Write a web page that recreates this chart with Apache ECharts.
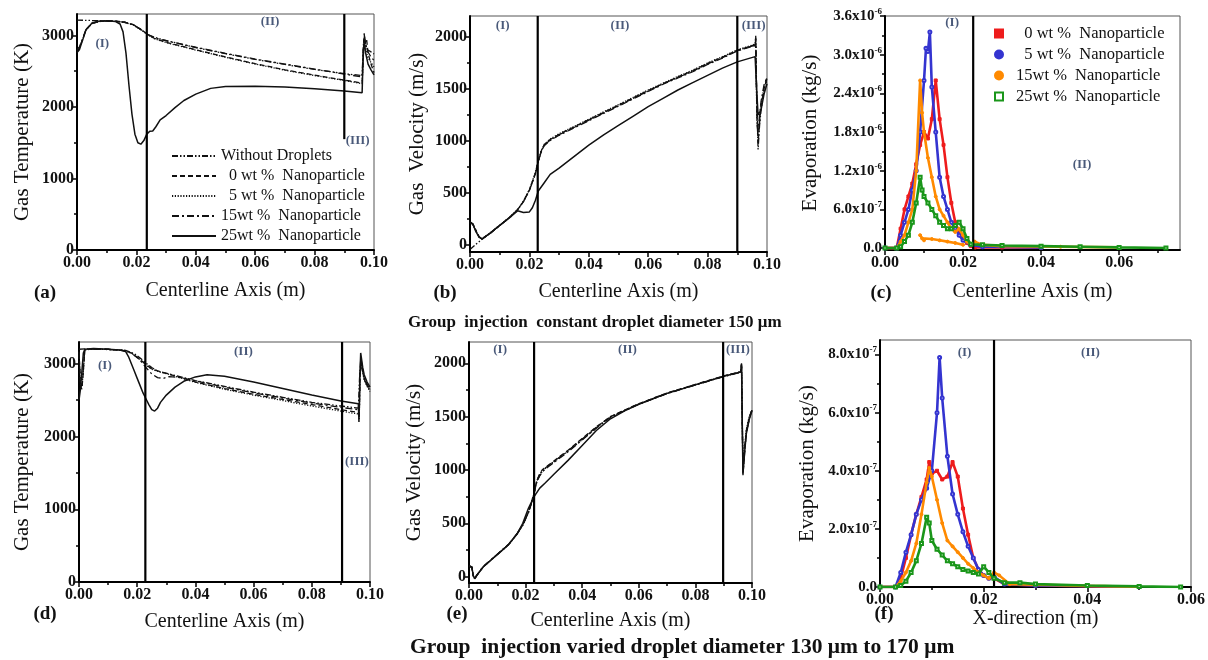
<!DOCTYPE html>
<html>
<head>
<meta charset="utf-8">
<script src="https://cdn.jsdelivr.net/npm/echarts@6/dist/echarts.min.js"></script>
<style>
  html, body { margin: 0; padding: 0; background: #fff; }
  #chart { width: 1208px; height: 660px; }
</style>
</head>
<body>
<div id="chart"></div>
<script>
// ---------- tick labels ----------
const ticksX10 = [0, 0.02, 0.04, 0.06, 0.08, 0.1];
const minorX10 = [0.01, 0.03, 0.05, 0.07, 0.09];
const ticksXc = [0, 0.02, 0.04, 0.06];
const minorXc = [0.01, 0.03, 0.05, 0.07];
const ticksXf = [0, 0.02, 0.04, 0.06];
const minorXf = [0.01, 0.03, 0.05];
const ticksTemp = [0, 1000, 2000, 3000];
const minorTemp = [500, 1500, 2500];
const ticksVel = [0, 500, 1000, 1500, 2000];
const minorVel = [250, 750, 1250, 1750];
const ticksEvapC = [0, 0.6e-6, 1.2e-6, 1.8e-6, 2.4e-6, 3.0e-6, 3.6e-6];
const minorEvapC = [0.3e-6, 0.9e-6, 1.5e-6, 2.1e-6, 2.7e-6, 3.3e-6];
const ticksEvapF = [0, 2e-7, 4e-7, 6e-7, 8e-7];
const minorEvapF = [1e-7, 3e-7, 5e-7, 7e-7];

// ---------- (a) gas temperature, constant droplet diameter ----------
const tempA_noDroplets = [[0,3215],[0.004,3210],[0.008,3205],[0.013,3200],[0.016,3185],[0.019,3150],[0.022,3070],[0.024,3010],[0.026,2975],[0.03,2930],[0.04,2830],[0.05,2745],[0.06,2665],[0.07,2595],[0.08,2525],[0.09,2465],[0.096,2440],[0.0964,2860],[0.0968,2990],[0.0972,2870],[0.0978,2800],[0.099,2770],[0.1,2740]];
const tempA_0wt = [[0,2780],[0.0008,2820],[0.002,2960],[0.003,3080],[0.005,3170],[0.008,3200],[0.013,3200],[0.016,3185],[0.019,3150],[0.022,3070],[0.024,3010],[0.026,2960],[0.03,2905],[0.04,2800],[0.05,2700],[0.06,2605],[0.07,2520],[0.08,2445],[0.09,2375],[0.096,2335],[0.0964,2750],[0.0967,3030],[0.097,2900],[0.0975,2950],[0.098,2750],[0.099,2600],[0.1,2480]];
const tempA_5wt = [[0,2790],[0.0008,2830],[0.002,2950],[0.003,3070],[0.005,3165],[0.008,3198],[0.013,3198],[0.016,3182],[0.019,3145],[0.022,3065],[0.024,3005],[0.026,2955],[0.03,2900],[0.04,2795],[0.05,2695],[0.06,2600],[0.07,2515],[0.08,2440],[0.09,2370],[0.096,2325],[0.0964,2700],[0.0968,2980],[0.0972,2850],[0.0978,2700],[0.099,2620],[0.1,2560]];
const tempA_15wt = [[0,2800],[0.0008,2840],[0.002,2960],[0.003,3075],[0.005,3168],[0.008,3200],[0.013,3200],[0.016,3185],[0.019,3150],[0.022,3070],[0.024,3010],[0.026,2970],[0.03,2925],[0.04,2835],[0.05,2750],[0.06,2670],[0.07,2600],[0.08,2530],[0.09,2460],[0.096,2420],[0.0964,2800],[0.0968,2960],[0.0972,2880],[0.0978,2780],[0.099,2700],[0.1,2650]];
const tempA_25wt = [[0,2760],[0.0008,2800],[0.002,2950],[0.003,3080],[0.005,3170],[0.007,3200],[0.01,3205],[0.013,3195],[0.0145,3160],[0.0155,3050],[0.0165,2750],[0.0175,2300],[0.0185,1900],[0.0195,1620],[0.0205,1500],[0.0215,1480],[0.0225,1530],[0.0235,1620],[0.0245,1660],[0.0255,1665],[0.0265,1720],[0.028,1820],[0.03,1880],[0.033,1990],[0.036,2090],[0.04,2180],[0.045,2260],[0.05,2285],[0.06,2290],[0.07,2280],[0.08,2255],[0.09,2225],[0.096,2200],[0.0963,2650],[0.0967,2950],[0.0972,2750],[0.098,2600],[0.099,2520],[0.1,2450]];

// ---------- (b) gas velocity, constant droplet diameter ----------
const velB_noDroplets = [[0,-40],[0.002,10],[0.004,55],[0.007,120],[0.01,190],[0.013,260],[0.016,340],[0.018,420],[0.02,530],[0.022,680],[0.023,800],[0.024,900],[0.025,960],[0.027,1010],[0.03,1060],[0.035,1130],[0.04,1200],[0.045,1270],[0.05,1340],[0.055,1410],[0.06,1480],[0.065,1550],[0.07,1610],[0.075,1670],[0.08,1740],[0.085,1800],[0.09,1870],[0.096,1920],[0.0962,2010],[0.0966,1300],[0.097,920],[0.0975,1150],[0.098,1300],[0.099,1480],[0.1,1620]];
const velB_0wt = [[0,220],[0.001,200],[0.002,140],[0.003,80],[0.004,60],[0.007,120],[0.01,190],[0.013,260],[0.016,340],[0.018,420],[0.02,530],[0.022,690],[0.023,810],[0.024,905],[0.025,965],[0.027,1015],[0.03,1065],[0.035,1135],[0.04,1205],[0.045,1275],[0.05,1345],[0.055,1415],[0.06,1485],[0.065,1550],[0.07,1615],[0.075,1675],[0.08,1745],[0.085,1805],[0.09,1870],[0.096,1925],[0.0962,1990],[0.0966,1250],[0.097,980],[0.0975,1180],[0.098,1330],[0.099,1500],[0.1,1600]];
const velB_5wt = [[0,215],[0.001,195],[0.002,135],[0.003,80],[0.004,62],[0.007,122],[0.01,192],[0.013,262],[0.016,342],[0.018,425],[0.02,535],[0.022,695],[0.023,815],[0.024,910],[0.025,970],[0.027,1020],[0.03,1070],[0.035,1140],[0.04,1210],[0.045,1280],[0.05,1350],[0.055,1420],[0.06,1490],[0.065,1555],[0.07,1620],[0.075,1680],[0.08,1750],[0.085,1810],[0.09,1875],[0.096,1930],[0.0962,1960],[0.0966,1200],[0.097,1050],[0.0975,1200],[0.098,1350],[0.099,1520],[0.1,1580]];
const velB_15wt = [[0,225],[0.001,205],[0.002,145],[0.003,85],[0.004,60],[0.007,118],[0.01,188],[0.013,258],[0.016,338],[0.018,418],[0.02,525],[0.022,685],[0.023,805],[0.024,900],[0.025,955],[0.027,1005],[0.03,1055],[0.035,1125],[0.04,1195],[0.045,1265],[0.05,1335],[0.055,1405],[0.06,1475],[0.065,1545],[0.07,1605],[0.075,1665],[0.08,1735],[0.085,1795],[0.09,1865],[0.096,1915],[0.0962,1980],[0.0966,1350],[0.097,1100],[0.0975,1250],[0.098,1380],[0.099,1540],[0.1,1610]];
const velB_25wt = [[0,220],[0.001,200],[0.002,130],[0.003,80],[0.004,60],[0.006,100],[0.01,190],[0.014,280],[0.016,330],[0.018,315],[0.02,320],[0.021,360],[0.022,430],[0.023,520],[0.025,600],[0.027,680],[0.03,740],[0.035,850],[0.04,960],[0.045,1060],[0.05,1150],[0.055,1240],[0.06,1330],[0.065,1410],[0.07,1490],[0.075,1560],[0.08,1630],[0.085,1700],[0.09,1760],[0.096,1810],[0.0965,1500],[0.097,1250],[0.098,1300],[0.099,1450],[0.1,1550]];

// ---------- (c) evaporation rate, constant droplet diameter ----------
const evapC_0wt = [[0,0],[0.003,0],[0.004,0.3e-6],[0.005,0.6e-6],[0.006,0.8e-6],[0.007,1.0e-6],[0.008,1.3e-6],[0.009,1.6e-6],[0.01,1.8e-6],[0.011,1.7e-6],[0.012,2.0e-6],[0.013,2.6e-6],[0.014,2.0e-6],[0.015,1.6e-6],[0.016,1.1e-6],[0.017,0.7e-6],[0.018,0.4e-6],[0.019,0.25e-6],[0.02,0.15e-6],[0.021,0.08e-6],[0.022,0.03e-6],[0.023,0.01e-6],[0.03,0.01e-6],[0.04,0.005e-6]];
const evapC_5wt = [[0,0],[0.003,0],[0.004,0.2e-6],[0.005,0.4e-6],[0.006,0.6e-6],[0.007,0.9e-6],[0.008,1.2e-6],[0.009,1.8e-6],[0.01,2.6e-6],[0.0105,3.1e-6],[0.011,3.05e-6],[0.0115,3.35e-6],[0.012,2.5e-6],[0.013,1.8e-6],[0.014,1.1e-6],[0.015,0.8e-6],[0.016,0.6e-6],[0.017,0.4e-6],[0.018,0.3e-6],[0.019,0.2e-6],[0.02,0.12e-6],[0.022,0.05e-6],[0.025,0.02e-6],[0.04,0.01e-6]];
const evapC_15wt = [[0,0],[0.003,0],[0.004,0.1e-6],[0.005,0.2e-6],[0.006,0.4e-6],[0.007,0.6e-6],[0.008,1.2e-6],[0.009,2.6e-6],[0.0095,2.1e-6],[0.01,1.8e-6],[0.011,1.4e-6],[0.012,1.1e-6],[0.013,0.8e-6],[0.014,0.6e-6],[0.015,0.5e-6],[0.016,0.4e-6],[0.017,0.3e-6],[0.018,0.25e-6],[0.019,0.3e-6],[0.02,0.2e-6],[0.021,0.1e-6],[0.022,0.05e-6],[0.023,0.1e-6],[0.025,0.05e-6],[0.03,0.03e-6],[0.045,0.02e-6],[0.06,0.01e-6]];
const evapC_15wtLow = [[0.009,0.2e-6],[0.0095,0.15e-6],[0.01,0.12e-6],[0.012,0.14e-6],[0.014,0.12e-6],[0.016,0.1e-6],[0.018,0.08e-6],[0.02,0.05e-6]];
const evapC_25wt = [[0,0],[0.003,0],[0.004,0.02e-6],[0.005,0.1e-6],[0.006,0.2e-6],[0.007,0.4e-6],[0.008,0.7e-6],[0.009,1.1e-6],[0.0095,0.9e-6],[0.01,0.8e-6],[0.011,0.7e-6],[0.012,0.6e-6],[0.013,0.5e-6],[0.014,0.4e-6],[0.015,0.35e-6],[0.016,0.3e-6],[0.017,0.3e-6],[0.018,0.35e-6],[0.019,0.4e-6],[0.02,0.3e-6],[0.021,0.15e-6],[0.022,0.06e-6],[0.025,0.05e-6],[0.03,0.04e-6],[0.04,0.03e-6],[0.05,0.02e-6],[0.06,0.01e-6],[0.072,0.0]];

// ---------- (d) gas temperature, varied droplet diameter ----------
const tempD_noDroplets = [[0,3200],[0.002,3205],[0.006,3200],[0.012,3195],[0.016,3185],[0.019,3140],[0.021,3080],[0.023,3010],[0.025,2950],[0.027,2900],[0.03,2870],[0.035,2820],[0.04,2770],[0.05,2690],[0.06,2610],[0.07,2540],[0.08,2470],[0.09,2420],[0.096,2390],[0.0964,2800],[0.0968,3050],[0.0975,2900],[0.098,2800],[0.099,2720],[0.1,2650]];
const tempD_0wt = [[0,3150],[0.0005,2700],[0.001,2650],[0.0015,2900],[0.002,3190],[0.004,3205],[0.01,3200],[0.015,3185],[0.018,3150],[0.021,3060],[0.023,2990],[0.025,2930],[0.028,2890],[0.03,2870],[0.035,2810],[0.04,2750],[0.05,2660],[0.06,2580],[0.07,2510],[0.08,2440],[0.09,2370],[0.096,2330],[0.0963,2250],[0.0966,2900],[0.097,3050],[0.0975,2900],[0.098,2800],[0.099,2700],[0.1,2640]];
const tempD_5wt = [[0,3160],[0.0005,2720],[0.001,2680],[0.0015,2920],[0.002,3190],[0.004,3203],[0.01,3198],[0.015,3183],[0.018,3148],[0.021,3055],[0.023,2985],[0.025,2925],[0.028,2885],[0.03,2865],[0.035,2805],[0.04,2745],[0.05,2650],[0.06,2570],[0.07,2495],[0.08,2420],[0.09,2350],[0.096,2310],[0.0963,2230],[0.0966,2880],[0.097,3000],[0.0975,2880],[0.098,2780],[0.099,2690],[0.1,2620]];
const tempD_15wt = [[0,3170],[0.0005,2740],[0.001,2700],[0.0015,2930],[0.002,3195],[0.004,3205],[0.01,3200],[0.015,3185],[0.018,3150],[0.021,3050],[0.023,2950],[0.025,2860],[0.027,2810],[0.029,2800],[0.031,2825],[0.035,2810],[0.04,2765],[0.05,2680],[0.06,2600],[0.07,2530],[0.08,2460],[0.09,2400],[0.096,2370],[0.0963,2280],[0.0966,2850],[0.097,3020],[0.0975,2890],[0.098,2790],[0.099,2710],[0.1,2630]];
const tempD_25wt = [[0,2500],[0.0005,2650],[0.001,2900],[0.0015,3150],[0.002,3200],[0.005,3210],[0.01,3200],[0.014,3190],[0.016,3170],[0.017,3100],[0.018,3000],[0.019,2900],[0.02,2800],[0.021,2700],[0.022,2600],[0.023,2520],[0.024,2440],[0.025,2370],[0.026,2350],[0.027,2390],[0.028,2470],[0.03,2570],[0.033,2680],[0.036,2760],[0.04,2820],[0.044,2850],[0.05,2830],[0.06,2750],[0.07,2660],[0.08,2570],[0.09,2490],[0.096,2450],[0.0962,2200],[0.0965,2800],[0.0968,3150],[0.0975,2950],[0.098,2850],[0.099,2750],[0.1,2680]];

// ---------- (e) gas velocity, varied droplet diameter ----------
const velE_noDroplets = [[0,100],[0.001,90],[0.0015,10],[0.002,-20],[0.003,20],[0.005,90],[0.008,160],[0.011,230],[0.014,300],[0.017,400],[0.019,480],[0.021,600],[0.022,680],[0.023,780],[0.024,900],[0.025,960],[0.026,1000],[0.028,1040],[0.03,1080],[0.035,1180],[0.04,1290],[0.045,1400],[0.05,1500],[0.055,1560],[0.06,1620],[0.065,1670],[0.07,1720],[0.075,1760],[0.08,1800],[0.085,1840],[0.09,1880],[0.096,1920],[0.0963,2000],[0.0968,950],[0.0975,1200],[0.098,1350],[0.099,1480],[0.1,1560]];
const velE_0wt = [[0,95],[0.001,85],[0.0015,5],[0.002,-20],[0.003,22],[0.005,92],[0.008,162],[0.011,232],[0.014,302],[0.017,405],[0.019,485],[0.021,605],[0.022,690],[0.023,790],[0.024,905],[0.025,965],[0.026,1005],[0.028,1045],[0.03,1085],[0.035,1185],[0.04,1295],[0.045,1405],[0.05,1500],[0.055,1562],[0.06,1622],[0.065,1672],[0.07,1722],[0.075,1762],[0.08,1802],[0.085,1842],[0.09,1882],[0.096,1922],[0.0963,1980],[0.0968,1000],[0.0975,1230],[0.098,1370],[0.099,1490],[0.1,1570]];
const velE_5wt = [[0,98],[0.001,88],[0.0015,8],[0.002,-18],[0.003,21],[0.005,91],[0.008,161],[0.011,231],[0.014,301],[0.017,402],[0.019,482],[0.021,602],[0.022,685],[0.023,785],[0.024,895],[0.025,950],[0.026,990],[0.028,1035],[0.03,1075],[0.035,1175],[0.04,1285],[0.045,1395],[0.05,1495],[0.055,1558],[0.06,1618],[0.065,1668],[0.07,1718],[0.075,1758],[0.08,1798],[0.085,1838],[0.09,1878],[0.096,1918],[0.0963,1970],[0.0968,1050],[0.0975,1250],[0.098,1380],[0.099,1500],[0.1,1550]];
const velE_15wt = [[0,102],[0.001,92],[0.0015,12],[0.002,-15],[0.003,24],[0.005,94],[0.008,164],[0.011,234],[0.014,304],[0.017,404],[0.019,484],[0.021,600],[0.022,682],[0.023,782],[0.024,890],[0.025,945],[0.026,985],[0.028,1030],[0.03,1070],[0.035,1170],[0.04,1282],[0.045,1392],[0.05,1492],[0.055,1556],[0.06,1616],[0.065,1666],[0.07,1716],[0.075,1756],[0.08,1796],[0.085,1836],[0.09,1876],[0.096,1916],[0.0963,1990],[0.0968,980],[0.0975,1210],[0.098,1360],[0.099,1470],[0.1,1565]];
const velE_25wt = [[0,100],[0.001,90],[0.0015,10],[0.002,-20],[0.003,20],[0.005,90],[0.008,160],[0.011,230],[0.014,300],[0.017,400],[0.019,500],[0.021,640],[0.023,750],[0.025,830],[0.027,880],[0.03,960],[0.035,1090],[0.04,1230],[0.045,1370],[0.05,1480],[0.055,1555],[0.06,1615],[0.065,1668],[0.07,1718],[0.075,1758],[0.08,1798],[0.085,1838],[0.09,1878],[0.096,1918],[0.0963,1990],[0.0968,960],[0.0975,1200],[0.098,1340],[0.099,1470],[0.1,1560]];

// ---------- (f) evaporation rate, varied droplet diameter ----------
const evapF_0wt = [[0,0],[0.003,0],[0.004,0.3e-7],[0.005,1.0e-7],[0.006,1.8e-7],[0.007,2.5e-7],[0.008,3.1e-7],[0.009,3.7e-7],[0.0095,4.3e-7],[0.01,3.9e-7],[0.011,4.0e-7],[0.012,3.7e-7],[0.013,3.8e-7],[0.014,4.3e-7],[0.015,3.8e-7],[0.016,2.7e-7],[0.017,1.8e-7],[0.018,1.0e-7],[0.019,0.6e-7],[0.02,0.4e-7],[0.021,0.3e-7],[0.022,0.3e-7],[0.024,0.1e-7],[0.03,0.05e-7],[0.05,0.01e-7]];
const evapF_5wt = [[0,0],[0.003,0],[0.004,0.5e-7],[0.005,1.2e-7],[0.006,1.8e-7],[0.007,2.5e-7],[0.008,3.0e-7],[0.009,3.4e-7],[0.01,4.0e-7],[0.011,6.0e-7],[0.0115,7.9e-7],[0.012,6.5e-7],[0.013,4.5e-7],[0.014,3.2e-7],[0.015,2.5e-7],[0.016,1.9e-7],[0.017,1.4e-7],[0.018,1.0e-7],[0.019,0.6e-7],[0.02,0.4e-7],[0.021,0.3e-7],[0.022,0.35e-7],[0.024,0.1e-7],[0.03,0.05e-7],[0.05,0.01e-7]];
const evapF_15wt = [[0,0],[0.003,0],[0.004,0.2e-7],[0.005,0.5e-7],[0.006,0.9e-7],[0.007,1.5e-7],[0.008,2.5e-7],[0.009,3.6e-7],[0.0095,4.1e-7],[0.01,3.8e-7],[0.011,3.0e-7],[0.012,2.2e-7],[0.013,1.6e-7],[0.014,1.4e-7],[0.015,1.2e-7],[0.016,1.0e-7],[0.017,0.8e-7],[0.018,0.65e-7],[0.019,0.5e-7],[0.02,0.4e-7],[0.021,0.3e-7],[0.022,0.5e-7],[0.023,0.4e-7],[0.025,0.1e-7],[0.03,0.08e-7],[0.04,0.04e-7],[0.05,0.01e-7]];
const evapF_25wt = [[0,0],[0.003,0],[0.004,0.05e-7],[0.005,0.2e-7],[0.006,0.5e-7],[0.007,0.9e-7],[0.008,1.5e-7],[0.009,2.4e-7],[0.0095,2.2e-7],[0.01,1.6e-7],[0.011,1.3e-7],[0.012,1.1e-7],[0.013,0.9e-7],[0.014,0.8e-7],[0.015,0.7e-7],[0.016,0.6e-7],[0.017,0.55e-7],[0.018,0.5e-7],[0.019,0.45e-7],[0.02,0.7e-7],[0.021,0.5e-7],[0.022,0.3e-7],[0.024,0.15e-7],[0.027,0.15e-7],[0.03,0.1e-7],[0.04,0.05e-7],[0.05,0.02e-7],[0.058,0.0]];

// ---------- zone boundaries [x, yFrom, yTo] and zone labels [text, x, y] ----------
const boundsA = [[0.0235, 0, 3300], [0.09, 1550, 3300]];
const boundsB = [[0.0228, -65, 2200], [0.09, -65, 2200]];
const boundsC = [[0.0226, -0.03e-6, 3.6e-6]];
const boundsD = [[0.0228, 0, 3300], [0.0904, 0, 3300]];
const boundsE = [[0.023, -60, 2200], [0.0898, -60, 2200]];
const boundsF = [[0.022, 0, 8.5e-7]];
const zonesA = [['(I)', 0.0085, 2890], ['(II)', 0.065, 3200], ['(III)', 0.0945, 1530]];
const zonesB = [['(I)', 0.011, 2110], ['(II)', 0.0505, 2110], ['(III)', 0.0955, 2110]];
const zonesC = [['(I)', 0.0172, 3.5e-6], ['(II)', 0.0505, 1.29e-6]];
const zonesD = [['(I)', 0.0089, 2970], ['(II)', 0.0565, 3170], ['(III)', 0.0955, 1660]];
const zonesE = [['(I)', 0.011, 2130], ['(II)', 0.056, 2130], ['(III)', 0.095, 2130]];
const zonesF = [['(I)', 0.0163, 8.05e-7], ['(II)', 0.0406, 8.05e-7]];

// ---------- legend texts ----------
const lineLegend = {
  a0: 'Without Droplets', a1: '  0 wt %  Nanoparticle', a2: '  5 wt %  Nanoparticle',
  a3: '15wt %  Nanoparticle', a4: '25wt %  Nanoparticle'
};
const dotLegend = {
  c0: '  0 wt %  Nanoparticle', c1: '  5 wt %  Nanoparticle',
  c2: '15wt %  Nanoparticle', c3: '25wt %  Nanoparticle'
};

const SERIF = "'Liberation Serif','Times New Roman',serif";
const INK = '#111';
const ZONE_INK = '#1c2f57';
const DOT_COLORS = ['#ee1c1c', '#3434d0', '#ff8a00', '#1a961a'];
const DOT_SYMBOLS = ['rect', 'emptyCircle', 'circle', 'emptyRect'];
// dash patterns: no droplets, 0, 5, 15 wt% (25 wt% solid)
const DASHES = [[6, 2, 1.5, 2, 1.5, 2], [5, 3], [1.2, 1.6], [7, 3, 2, 3], 'solid'];

function sciLabel(v) {
  if (Math.abs(v) < 1e-15) return '{m|0.0}';
  const e = Math.floor(Math.log10(v) + 1e-9);
  const m = (v / Math.pow(10, e)).toFixed(1);
  return '{m|' + m + 'x10}{s|' + e + '}';
}
const sciRich = {
  m: { fontFamily: SERIF, fontWeight: 'bold', fontSize: 15, color: INK },
  s: { fontFamily: SERIF, fontWeight: 'bold', fontSize: 9, color: INK, padding: [0, 0, 9, 0] }
};

const panels = [
  { grid: { left: 77, top: 14, width: 297, height: 236 }, x: [0, 0.1], y: [0, 3300],
    xt: ticksX10, xm: minorX10, yt: ticksTemp, ym: minorTemp, sci: false, xGap: 31,
    xName: 'Centerline Axis (m)', yName: 'Gas Temperature (K)', yGap: 44,
    lines: [tempA_noDroplets, tempA_0wt, tempA_5wt, tempA_15wt, tempA_25wt], legendKey: 'a',
    bounds: boundsA, zones: zonesA },
  { grid: { left: 470, top: 16, width: 297, height: 236 }, x: [0, 0.1], y: [-65, 2200],
    xt: ticksX10, xm: minorX10, yt: ticksVel, ym: minorVel, sci: false, xGap: 30,
    xName: 'Centerline Axis (m)', yName: 'Gas  Velocity (m/s)', yGap: 42,
    lines: [velB_noDroplets, velB_0wt, velB_5wt, velB_15wt, velB_25wt],
    bounds: boundsB, zones: zonesB },
  { grid: { left: 885, top: 16, width: 295, height: 234 }, x: [0, 0.0756], y: [-0.03e-6, 3.6e-6],
    xt: ticksXc, xm: minorXc, yt: ticksEvapC, ym: minorEvapC, sci: true, xGap: 32,
    xName: 'Centerline Axis (m)', yName: 'Evaporation (kg/s)', yGap: 64,
    dots: [evapC_0wt, evapC_5wt, evapC_15wt, evapC_25wt], extraDots: [[evapC_15wtLow, 2]],
    legendKey: 'c', bounds: boundsC, zones: zonesC },
  { grid: { left: 79, top: 342, width: 291, height: 240 }, x: [0, 0.1], y: [0, 3300],
    xt: ticksX10, xm: minorX10, yt: ticksTemp, ym: minorTemp, sci: false, xGap: 30,
    xName: 'Centerline Axis (m)', yName: 'Gas Temperature (K)', yGap: 46,
    lines: [tempD_noDroplets, tempD_0wt, tempD_5wt, tempD_15wt, tempD_25wt],
    bounds: boundsD, zones: zonesD },
  { grid: { left: 469, top: 342, width: 283, height: 241 }, x: [0, 0.1], y: [-60, 2200],
    xt: ticksX10, xm: minorX10, yt: ticksVel, ym: minorVel, sci: false, xGap: 28,
    xName: 'Centerline Axis (m)', yName: 'Gas Velocity (m/s)', yGap: 44,
    lines: [velE_noDroplets, velE_0wt, velE_5wt, velE_15wt, velE_25wt],
    bounds: boundsE, zones: zonesE },
  { grid: { left: 880, top: 340, width: 313, height: 247 }, x: [0, 0.06], y: [0, 8.5e-7],
    xt: ticksXf, xm: minorXf, yt: ticksEvapF, ym: minorEvapF, sci: true, xGap: 22,
    xName: 'X-direction (m)', yName: 'Evaporation (kg/s)', yGap: 62,
    dots: [evapF_0wt, evapF_5wt, evapF_15wt, evapF_25wt],
    bounds: boundsF, zones: zonesF }
];

function dotSeries(name, data, k, xi, yi) {
  return {
    type: 'line', name, xAxisIndex: xi, yAxisIndex: yi,
    data, symbol: DOT_SYMBOLS[k], symbolSize: 3, showSymbol: true, animation: false,
    z: 3 + k, lineStyle: { color: DOT_COLORS[k], width: 2.6 },
    itemStyle: { color: DOT_COLORS[k], borderColor: DOT_COLORS[k], borderWidth: 1 }
  };
}

const grids = [], xAxes = [], yAxes = [], series = [];
panels.forEach((p, gi) => {
  grids.push(Object.assign({ show: true, borderColor: '#555', borderWidth: 1,
    backgroundColor: 'transparent' }, p.grid));
  const tickLine = { color: '#000', width: 1.5 };
  xAxes.push({
    type: 'value', gridIndex: gi, min: p.x[0], max: p.x[1], position: 'bottom',
    axisLine: { show: true, onZero: false, lineStyle: { color: '#000', width: 2 } },
    axisTick: { show: true, length: 5, customValues: p.xt, lineStyle: tickLine },
    axisLabel: { customValues: p.xt, formatter: v => v.toFixed(2), fontFamily: SERIF,
      fontWeight: 'bold', fontSize: 16, color: INK, margin: 5 },
    splitLine: { show: false },
    name: p.xName, nameLocation: 'middle', nameGap: p.xGap,
    nameTextStyle: { fontFamily: SERIF, fontSize: 20, color: INK }
  });
  xAxes.push({
    type: 'value', gridIndex: gi, min: p.x[0], max: p.x[1], position: 'bottom',
    axisLine: { show: false, onZero: false },
    axisTick: { show: true, length: 3, customValues: p.xm, lineStyle: tickLine },
    axisLabel: { show: false }, splitLine: { show: false }
  });
  yAxes.push({
    type: 'value', gridIndex: gi, min: p.y[0], max: p.y[1], position: 'left',
    axisLine: { show: true, onZero: false, lineStyle: { color: '#000', width: 2 } },
    axisTick: { show: true, length: 5, customValues: p.yt, lineStyle: tickLine },
    axisLabel: p.sci
      ? { customValues: p.yt, formatter: sciLabel, rich: sciRich, margin: 3 }
      : { customValues: p.yt, formatter: v => String(Math.round(v)), fontFamily: SERIF,
          fontWeight: 'bold', fontSize: 16, color: INK, margin: 3 },
    splitLine: { show: false },
    name: p.yName, nameLocation: 'middle', nameGap: p.yGap,
    nameTextStyle: { fontFamily: SERIF, fontSize: 21, color: INK }
  });
  yAxes.push({
    type: 'value', gridIndex: gi, min: p.y[0], max: p.y[1], position: 'left',
    axisLine: { show: false, onZero: false },
    axisTick: { show: true, length: 3, customValues: p.ym, lineStyle: tickLine },
    axisLabel: { show: false }, splitLine: { show: false }
  });
  const xi = gi * 2, yi = gi * 2;
  const key = p.legendKey || ('p' + gi);

  if (p.lines) {
    p.lines.forEach((d, k) => {
      series.push({
        type: 'line', name: key + k, xAxisIndex: xi, yAxisIndex: yi,
        data: d, symbol: 'none', showSymbol: false, animation: false, z: 3,
        lineStyle: { color: INK, width: k === 4 ? 1.5 : 1.3, type: DASHES[k] },
        itemStyle: { color: INK }
      });
    });
  }
  if (p.dots) {
    p.dots.forEach((d, k) => series.push(dotSeries(key + k, d, k, xi, yi)));
    (p.extraDots || []).forEach(e => series.push(dotSeries(key + 'x' + e[1], e[0], e[1], xi, yi)));
  }
  p.bounds.forEach(b => {
    series.push({
      type: 'line', xAxisIndex: xi, yAxisIndex: yi, data: [[b[0], b[1]], [b[0], b[2]]],
      symbol: 'none', animation: false, silent: true, z: 6,
      lineStyle: { color: '#000', width: 2.2 }
    });
  });
  series.push({
    type: 'scatter', xAxisIndex: xi, yAxisIndex: yi, symbolSize: 0, animation: false, silent: true, z: 7,
    data: p.zones.map(z => ({ value: [z[1], z[2]], name: z[0] })),
    label: { show: true, position: 'inside', formatter: q => q.name, fontFamily: SERIF,
      fontWeight: 'bold', fontSize: 13, color: ZONE_INK }
  });
});

const panelTags = [['(a)', 45, 293], ['(b)', 445, 293], ['(c)', 881, 293],
                   ['(d)', 45, 614], ['(e)', 457, 614], ['(f)', 884, 614]];
const graphics = panelTags.map(t => ({
  type: 'text', x: t[1], y: t[2],
  style: { text: t[0], font: 'bold 19px ' + SERIF, fill: INK, align: 'center', verticalAlign: 'middle' }
}));
graphics.push({
  type: 'text', x: 408, y: 323,
  style: { text: 'Group  injection  constant droplet diameter 150 μm', font: 'bold 17px ' + SERIF,
    fill: INK, align: 'left', verticalAlign: 'middle' }
});
graphics.push({
  type: 'text', x: 410, y: 647,
  style: { text: 'Group  injection varied droplet diameter 130 μm to 170 μm', font: 'bold 21.5px ' + SERIF,
    fill: INK, align: 'left', verticalAlign: 'middle' }
});

const chart = echarts.init(document.getElementById('chart'), null, { renderer: 'canvas' });
chart.setOption({
  backgroundColor: '#fff',
  animation: false,
  grid: grids,
  xAxis: xAxes,
  yAxis: yAxes,
  legend: [
    { orient: 'vertical', left: 166, top: 143, itemWidth: 44, itemHeight: 12, itemGap: 4,
      selectedMode: false, data: ['a0', 'a1', 'a2', 'a3', 'a4'],
      itemStyle: { opacity: 0 },
      formatter: n => lineLegend[n],
      textStyle: { fontFamily: SERIF, fontSize: 16, color: INK } },
    { orient: 'vertical', left: 989, top: 20, itemWidth: 8, itemHeight: 8, itemGap: 4,
      selectedMode: false,
      data: [{ name: 'c0', icon: 'rect' }, { name: 'c1', icon: 'circle' },
             { name: 'c2', icon: 'circle' }, { name: 'c3', icon: 'emptyRect' }],
      formatter: n => dotLegend[n],
      textStyle: { fontFamily: SERIF, fontSize: 16.5, color: INK, padding: [0, 0, 0, 8] } }
  ],
  graphic: graphics,
  series: series
});
</script>
</body>
</html>
